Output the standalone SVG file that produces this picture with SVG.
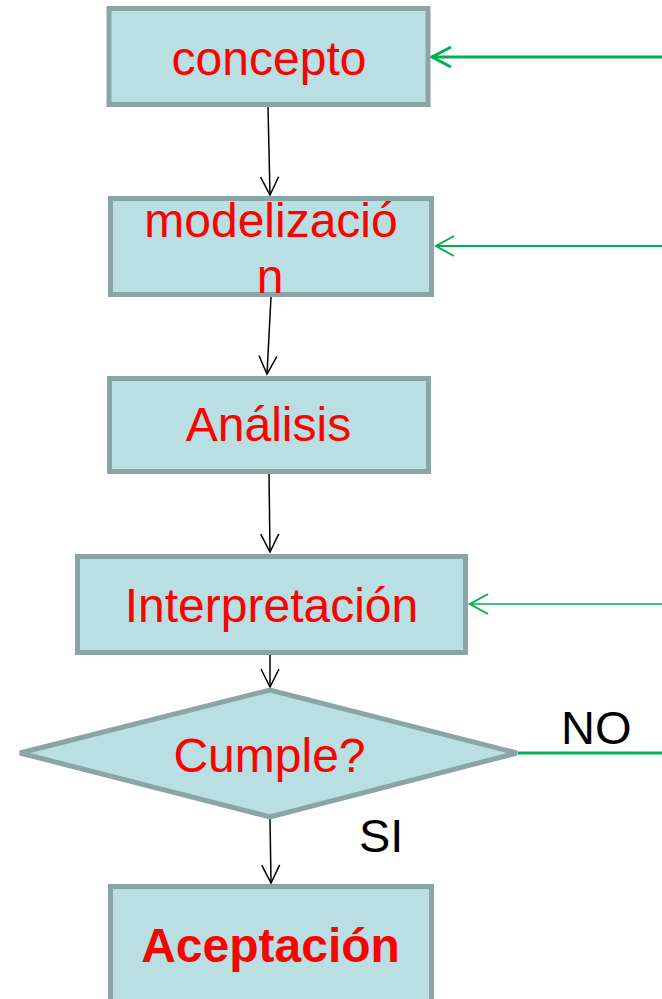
<svg xmlns="http://www.w3.org/2000/svg" width="662" height="999" viewBox="0 0 662 999">
<style>
.box{fill:#b9dfe2;stroke:#8ba5a7;stroke-width:5}
.lbl{font-family:"Liberation Sans",Arial,sans-serif;font-size:48px;fill:#ff0000;text-anchor:middle}
.bold{font-weight:bold}
.note{font-family:"Liberation Sans",Arial,sans-serif;font-size:47px;fill:#000000}
.blk{stroke:#000000;stroke-width:1.5;fill:none}
.grn{stroke:#00b050;fill:none}
</style>
<defs>
<marker id="ab" markerUnits="userSpaceOnUse" markerWidth="22" markerHeight="22" viewBox="-1 -1 22 22" refX="18" refY="9" orient="auto" overflow="visible">
<path d="M0,0 L18,9 L0,18" fill="none" stroke="#000000" stroke-width="1.5"/>
</marker>
<marker id="ag3" markerUnits="userSpaceOnUse" markerWidth="24" markerHeight="24" viewBox="-1 -1 24 24" refX="19" refY="10" orient="auto" overflow="visible">
<path d="M0,0 L19,10 L0,20" fill="none" stroke="#00b050" stroke-width="3"/>
</marker>
<marker id="ag2" markerUnits="userSpaceOnUse" markerWidth="24" markerHeight="24" viewBox="-1 -1 24 24" refX="18" refY="10" orient="auto" overflow="visible">
<path d="M0,0 L18,10 L0,20" fill="none" stroke="#00b050" stroke-width="2"/>
</marker>
</defs>
<g id="connectors">
<line class="blk" x1="268" y1="107" x2="270" y2="195" marker-end="url(#ab)"/>
<line class="blk" x1="271" y1="297" x2="267" y2="374" marker-end="url(#ab)"/>
<line class="blk" x1="269" y1="474" x2="270" y2="552" marker-end="url(#ab)"/>
<line class="blk" x1="270" y1="655" x2="270" y2="687" marker-end="url(#ab)"/>
<line class="blk" x1="270" y1="818" x2="271" y2="883" marker-end="url(#ab)"/>
<line class="grn" x1="662" y1="57" x2="432" y2="57" stroke-width="3" marker-end="url(#ag3)"/>
<line class="grn" x1="662" y1="246" x2="436" y2="246" stroke-width="2" marker-end="url(#ag2)"/>
<line class="grn" x1="662" y1="604" x2="470" y2="604" stroke-width="1.5" marker-end="url(#ag2)"/>
<line class="grn" x1="518" y1="753" x2="662" y2="753" stroke-width="3"/>
<text class="note" x="561" y="744">NO</text>
<text class="note" x="359" y="852">SI</text>
</g>
<g id="concepto">
<rect class="box" x="109" y="8.5" width="319" height="96"/>
<text class="lbl" x="269" y="75">concepto</text>
</g>
<g id="modelizacion">
<rect class="box" x="110.5" y="198.5" width="321" height="96"/>
<text class="lbl" x="271" y="237">modelizació</text>
<text class="lbl" x="270" y="293">n</text>
</g>
<g id="analisis">
<rect class="box" x="109.5" y="378.5" width="319" height="93"/>
<text class="lbl" x="268.5" y="441">Análisis</text>
</g>
<g id="interpretacion">
<rect class="box" x="77.5" y="556.5" width="388" height="96"/>
<text class="lbl" x="271.5" y="622">Interpretación</text>
</g>
<g id="cumple">
<polygon class="box" points="20,753 270,690 517,753 270,817"/>
<text class="lbl" x="269.5" y="772">Cumple?</text>
</g>
<g id="aceptacion">
<rect class="box" x="110.5" y="886.5" width="321" height="125"/>
<text class="lbl bold" x="270.5" y="962">Aceptación</text>
</g>
</svg>
